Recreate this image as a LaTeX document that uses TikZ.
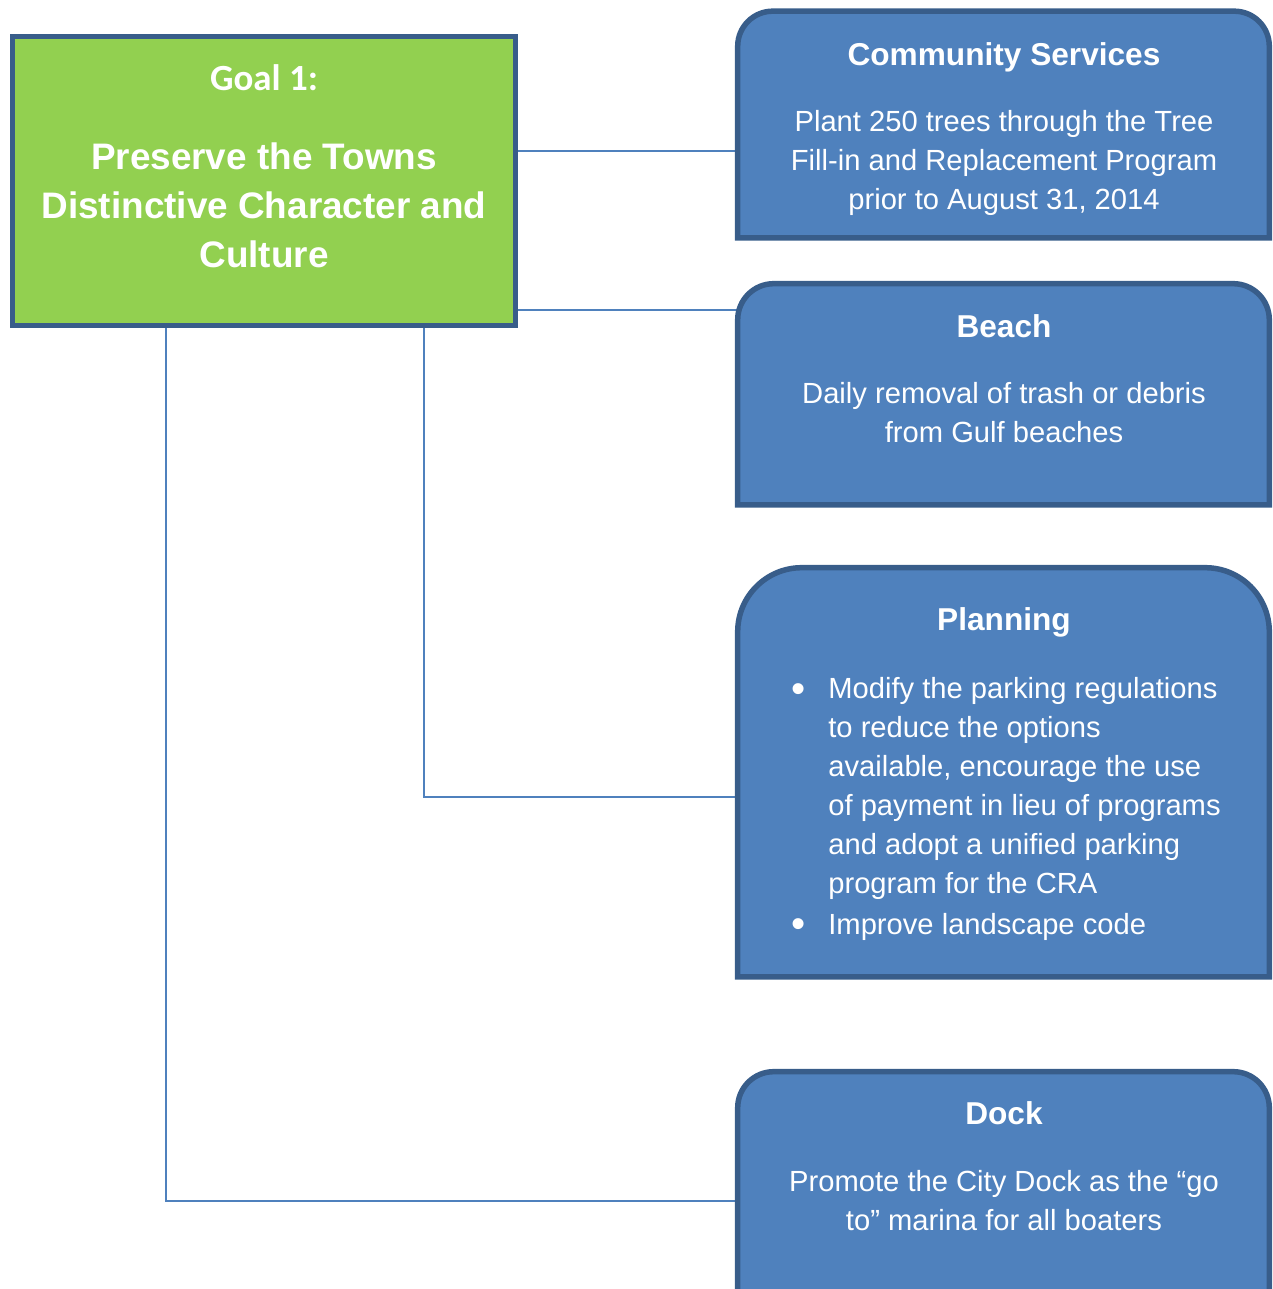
\documentclass[tikz,border=0pt]{standalone}
\usepackage{fontspec}
\setmainfont{Liberation Sans}
\newfontfamily\goalfont{Carlito}
\usepackage{xcolor}
\definecolor{goalgreen}{RGB}{146,208,80}
\definecolor{boxblue}{RGB}{79,129,189}
\definecolor{edgeblue}{RGB}{56,93,138}
\usetikzlibrary{backgrounds}

% panel with two rounded top corners: node name, corner radius
\newcommand{\tabpanel}[2]{%
  \draw[boxline] (#1.south west) -- ([yshift=-#2]#1.north west)
    arc[start angle=180,end angle=90,radius=#2] -- ([xshift=-#2]#1.north east)
    arc[start angle=90,end angle=0,radius=#2] -- (#1.south east) -- cycle;}
\newcommand{\bigbullet}{\raisebox{-1.8pt}{\fontsize{23}{22}\selectfont\textbullet}}

\begin{document}
\begin{tikzpicture}[
  x=0.02cm, y=-0.02cm,
  goalbox/.style={draw=edgeblue,fill=goalgreen,line width=0.1cm,minimum width=10.07cm,
                  minimum height=5.78cm,inner sep=0pt},
  panel/.style={minimum width=10.62cm,inner sep=0pt},
  boxline/.style={draw=edgeblue,fill=boxblue,line width=0.11cm},
  goaltext/.style={text=white,align=center,inner sep=0pt,font=\fontsize{21}{27.8}\selectfont\bfseries},
  headtext/.style={text=white,inner sep=0pt,font=\fontsize{18}{22}\selectfont\bfseries},
  bodytext/.style={text=white,align=center,inner sep=0pt,font=\fontsize{16.6}{22.2}\selectfont},
  listtext/.style={text=white,inner sep=0pt,font=\fontsize{16.6}{22.2}\selectfont},
  link/.style={draw=boxblue,line width=0.04cm},
]
  \useasboundingbox (0,0) rectangle (1273,1289);

  % Goal
  \node[goalbox] (goal) at (263.75,181) {};
  \node[goaltext] (goaltitle) at (264,78) {\goalfont Goal 1:};
  \node[goaltext] (goalname) at (264,205.5) {Preserve the Towns\\Distinctive Character and\\Culture};

  % Departments
  \node[panel,minimum height=4.52cm] (cs) at (1003.5,124.5) {};
  \node[panel,minimum height=4.41cm] (beach) at (1003.5,394.25) {};
  \node[panel,minimum height=8.17cm] (plan) at (1003.5,772.25) {};
  \node[panel,minimum height=4.56cm] (dock) at (1003.5,1186) {};
  \tabpanel{cs}{0.7cm}
  \tabpanel{beach}{0.72cm}
  \tabpanel{plan}{1.28cm}
  \tabpanel{dock}{0.72cm}

  \node[headtext] (cshead) at (1004,57) {Community Services};
  \node[bodytext] (csbody) at (1004,163)
    {Plant 250 trees through the Tree\\Fill-in and Replacement Program\\prior to August 31, 2014};

  \node[headtext] (beachhead) at (1004,326) {Beach};
  \node[bodytext] (beachbody) at (1004,413) {Daily removal of trash or debris\\from Gulf beaches};

  \node[headtext] (planhead) at (1004,622) {Planning};
  \node[listtext,anchor=west] (planbody) at (791,809) {%
    \begin{tabular}{@{}p{0.74cm}@{}l@{}}
      \bigbullet & Modify the parking regulations\\
                 & to reduce the options\\
                 & available, encourage the use\\
                 & of payment in lieu of programs\\
                 & and adopt a unified parking\\
                 & program for the CRA\\[1pt]
      \bigbullet & Improve landscape code
    \end{tabular}};

  \node[headtext] (dockhead) at (1004,1113) {Dock};
  \node[bodytext] (dockbody) at (1004,1201) {Promote the City Dock as the “go\\to” marina for all boaters};

  % Connectors
  \coordinate (csrow) at (0,151);
  \coordinate (beachrow) at (0,309.5);
  \coordinate (planrow) at (424,797);
  \coordinate (dockrow) at (166,1201);
  \begin{scope}[on background layer]
    \draw[link] (goal.east |- csrow) -- (cs.west |- csrow);
    \draw[link] (goal.east |- beachrow) -- (beach.west |- beachrow);
    \draw[link] (goal.south -| planrow) -- (planrow) -- (plan.west |- planrow);
    \draw[link] (goal.south -| dockrow) -- (dockrow) -- (dock.west |- dockrow);
  \end{scope}
\end{tikzpicture}
\end{document}
